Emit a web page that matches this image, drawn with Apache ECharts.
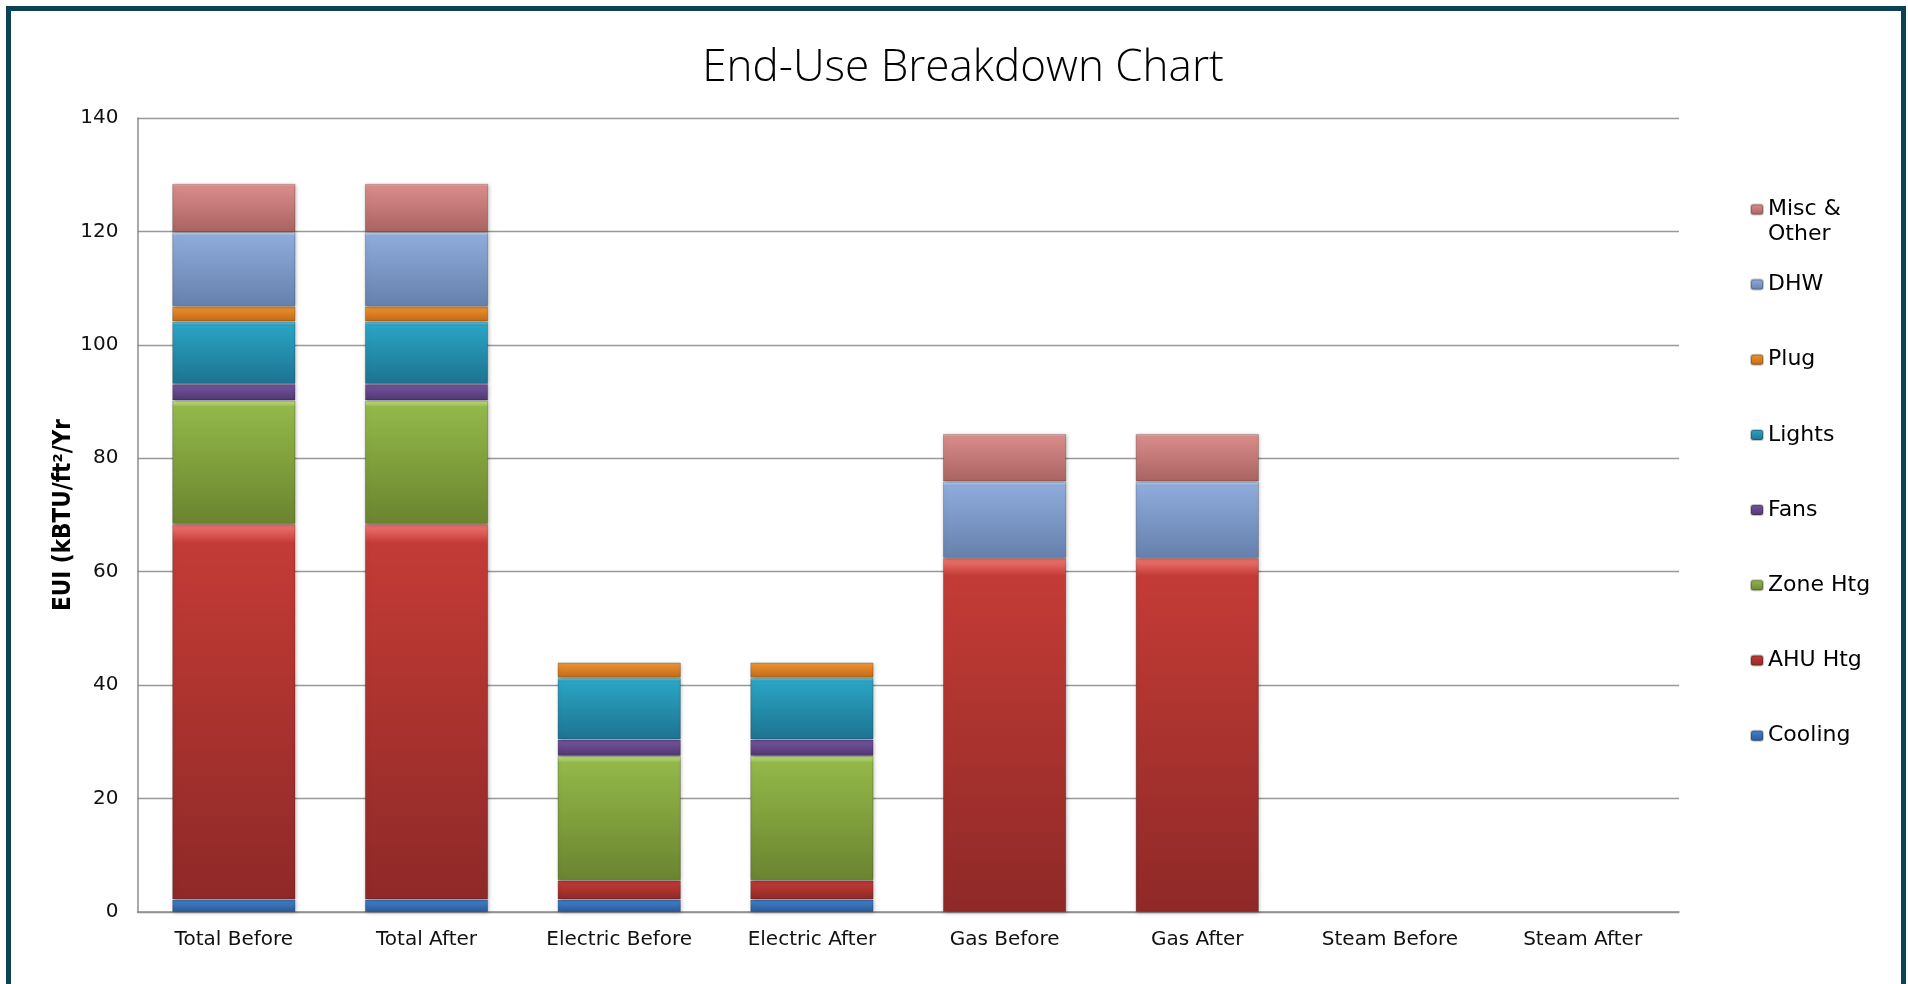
<!DOCTYPE html>
<html>
<head>
<meta charset="utf-8">
<script src="https://cdn.jsdelivr.net/npm/echarts@6/dist/echarts.min.js"></script>
<style>
html,body{margin:0;padding:0;background:#fff;overflow:hidden;}
#frame{position:absolute;left:6px;top:6px;width:1890px;height:1100px;border:5px solid #0d4157;box-sizing:content-box;}
#chart{position:absolute;left:0;top:0;width:1908px;height:984px;}
</style>
</head>
<body>
<div id="frame"></div>
<div id="chart"></div>
<script>
const categories = ['Total Before','Total After','Electric Before','Electric After','Gas Before','Gas After','Steam Before','Steam After'];
const cooling = [2.2, 2.2, 2.2, 2.2, 0, 0, 0, 0];
const ahuHtg  = [66.2, 66.2, 3.4, 3.4, 62.4, 62.4, 0, 0];
const zoneHtg = [21.8, 21.8, 21.9, 21.9, 0, 0, 0, 0];
const fans    = [2.9, 2.9, 2.9, 2.9, 0, 0, 0, 0];
const lights  = [11.0, 11.0, 10.9, 10.9, 0, 0, 0, 0];
const plug    = [2.7, 2.7, 2.7, 2.7, 0, 0, 0, 0];
const dhw     = [13.1, 13.1, 0, 0, 13.5, 13.5, 0, 0];
const misc    = [8.5, 8.5, 0, 0, 8.4, 8.4, 0, 0];
const yTicks = [0, 20, 40, 60, 80, 100, 120, 140];

const seriesDefs = [
  {name:'Cooling',  data:cooling, c:['#9fd0ff','#4282cf','#2a5994']},
  {name:'AHU Htg',  data:ahuHtg,  c:['#f27a74','#c43b36','#8e2927']},
  {name:'Zone Htg', data:zoneHtg, c:['#d2f28c','#93b849','#6a842f']},
  {name:'Fans',     data:fans,    c:['#bb9ce6','#7554a0','#4f3771']},
  {name:'Lights',   data:lights,  c:['#7fe6fb','#2ba4c4','#1c7390']},
  {name:'Plug',     data:plug,    c:['#ffc27a','#f0942e','#bf6818']},
  {name:'DHW',      data:dhw,     c:['#d2eaff','#8eabdb','#6580ab']},
  {name:'Misc & Other', data:misc, c:['#f4b2b0','#d98c8a','#a86361']}
];

function grad(c){
  return new echarts.graphic.LinearGradient(0,0,0,1,[
    {offset:0, color:c[0]},
    {offset:0.05, color:c[1]},
    {offset:1, color:c[2]}
  ]);
}

const series = seriesDefs.map(s => ({
  name: s.name,
  type: 'bar',
  stack: 'eui',
  barWidth: '64%',
  data: s.data.map(v => v === 0 ? null : v),
  itemStyle: {
    color: grad(s.c),
    borderColor: 'rgba(0,0,0,0.22)',
    borderWidth: 1,
    shadowColor: 'rgba(0,0,0,0.25)',
    shadowBlur: 4,
    shadowOffsetX: 1,
    shadowOffsetY: 1
  },
  emphasis: {disabled: true}
}));

const chart = echarts.init(document.getElementById('chart'), null, {renderer:'canvas'});
const legendText = {fontFamily:'DejaVu Sans', fontSize:22, color:'#000', lineHeight:25};
chart.setOption({
  backgroundColor: 'transparent',
  animation: false,
  title: {
    text: 'End-Use Breakdown Chart',
    left: 958, top: 41, textAlign: 'center',
    textStyle: {fontFamily:'Open Sans', fontWeight:300, fontSize:44, color:'#000'}
  },
  legend: [
    {
      data: ['Misc & Other'],
      orient: 'vertical', left: 1745, top: 167,
      itemWidth: 12, itemHeight: 10,
      formatter: () => '\nMisc &\nOther',
      textStyle: legendText,
      selectedMode: false
    },
    {
      data: ['DHW','Plug','Lights','Fans','Zone Htg','AHU Htg','Cooling'],
      orient: 'vertical', left: 1745, top: 267,
      itemWidth: 12, itemHeight: 10, itemGap: 50.2,
      textStyle: legendText,
      selectedMode: false
    }
  ],
  grid: {left: 137.5, right: 229, top: 118, bottom: 72, containLabel: false},
  xAxis: {
    type: 'category',
    data: categories,
    axisLine: {lineStyle: {color:'#8c8c8c', width:1.5}},
    axisTick: {show:false},
    axisLabel: {fontFamily:'DejaVu Sans', fontSize:20, color:'#111', margin:18, interval:0}
  },
  yAxis: {
    type: 'value',
    min: 0, max: 140, interval: 20,
    name: 'EUI (kBTU/ft\u00b2/Yr',
    nameLocation: 'middle',
    nameGap: 62,
    nameMoveOverlap: false,
    nameTextStyle: {fontFamily:'DejaVu Sans Condensed', fontWeight:'bold', fontSize:24, color:'#000'},
    axisLine: {show:true, lineStyle:{color:'#8c8c8c', width:1.5}},
    axisTick: {show:false},
    splitLine: {lineStyle:{color:'#999', width:1.3}},
    axisLabel: {fontFamily:'DejaVu Sans', fontSize:20, color:'#111', margin:19,
      formatter: v => yTicks.includes(v) ? String(v) : ''}
  },
  series: series
});
</script>
</body>
</html>
